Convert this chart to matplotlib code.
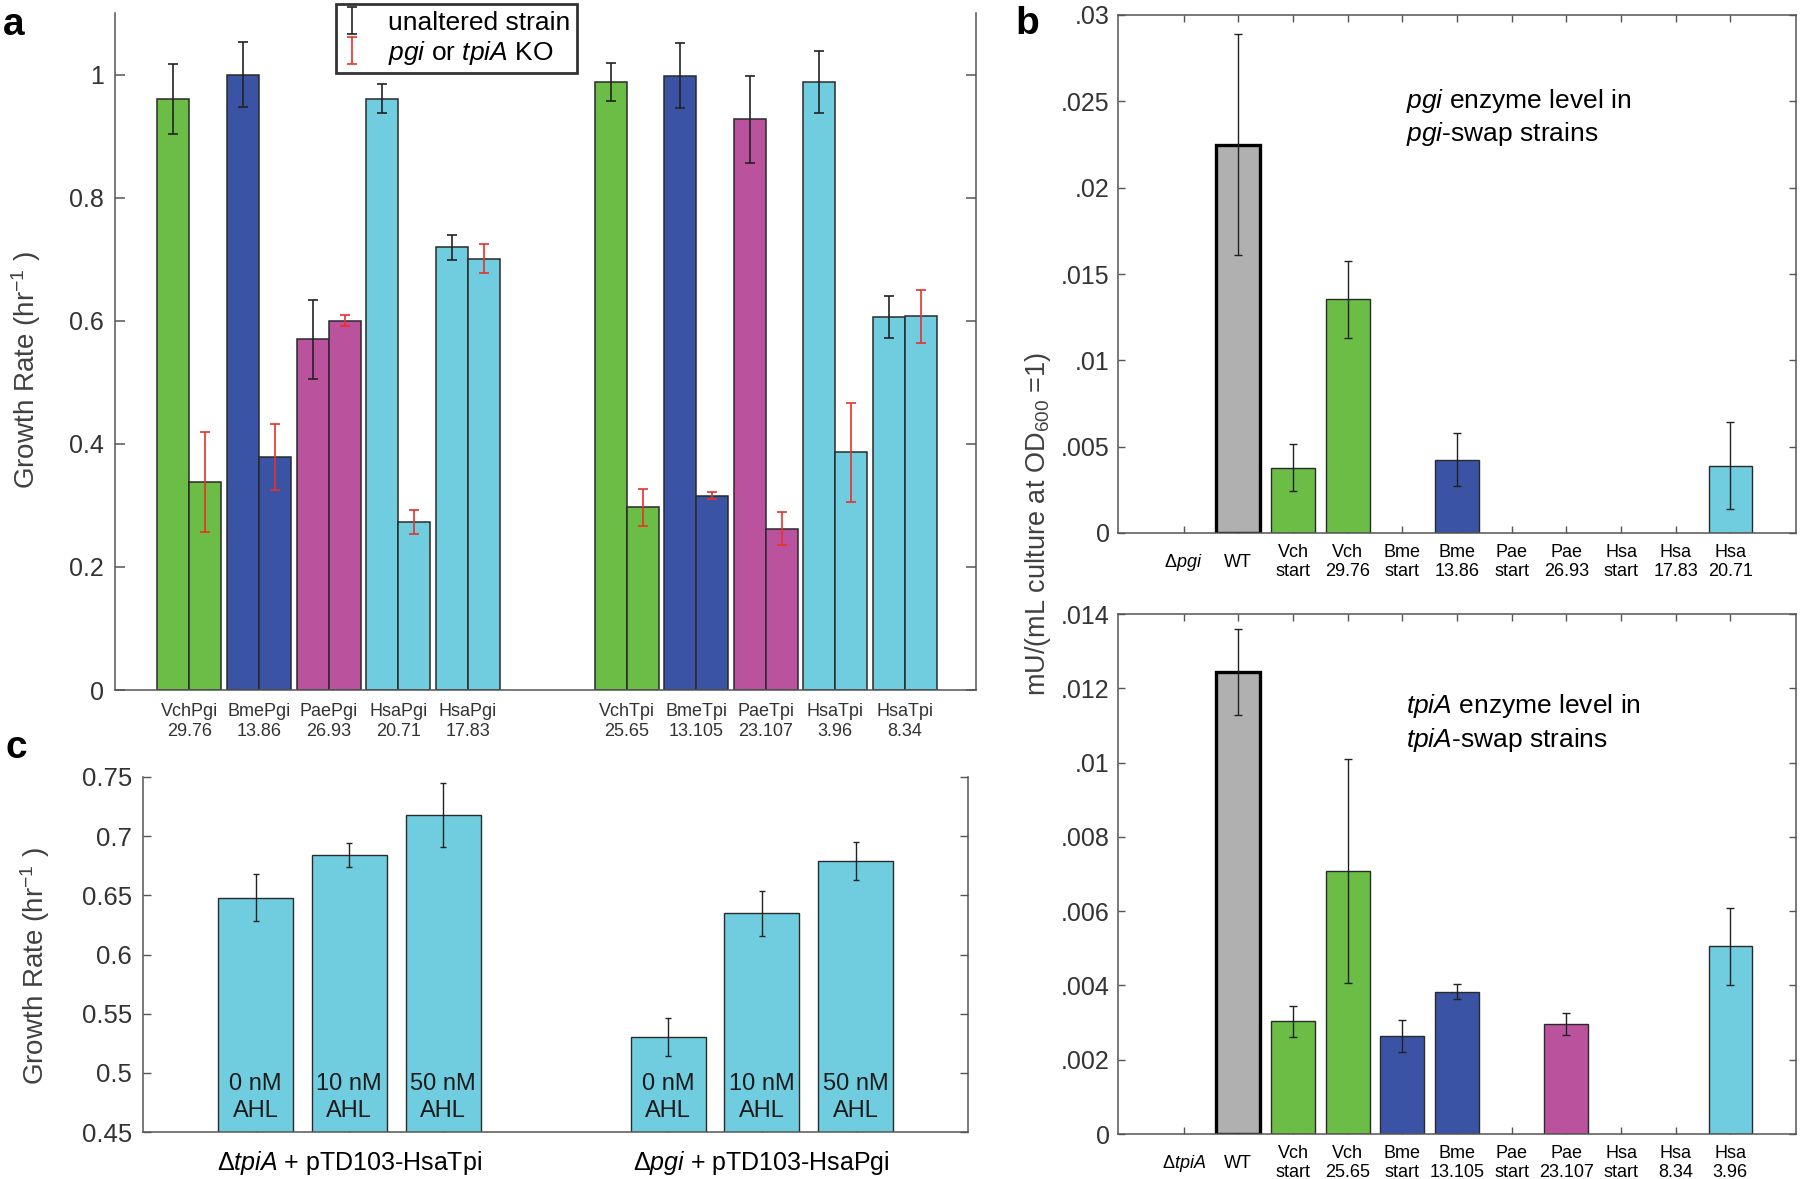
import numpy as np
import matplotlib
matplotlib.use('Agg')
import matplotlib.pyplot as plt
from matplotlib.transforms import blended_transform_factory

plt.rcParams['font.family'] = ['Liberation Sans', 'DejaVu Sans']
plt.rcParams['mathtext.fontset'] = 'custom'
plt.rcParams['mathtext.rm'] = 'Liberation Sans'
plt.rcParams['mathtext.it'] = 'Liberation Sans:italic'
plt.rcParams['mathtext.bf'] = 'Liberation Sans:bold'

GREEN = '#6bbd45'
BLUE = '#3a53a4'
MAG = '#ba529e'
CYAN = '#70cddf'
GRAY = '#b1b0b1'
TXT = '#333333'
SPINE = '#555555'
RED = '#e8312a'

# ---- panel a data ----
a_strains = ['VchPgi', 'BmePgi', 'PaePgi', 'HsaPgi', 'HsaPgi',
             'VchTpi', 'BmeTpi', 'PaeTpi', 'HsaTpi', 'HsaTpi']
a_codes = ['29.76', '13.86', '26.93', '20.71', '17.83',
           '25.65', '13.105', '23.107', '3.96', '8.34']
a_unaltered = [0.960, 1.000, 0.570, 0.961, 0.719, 0.988, 0.998, 0.927, 0.988, 0.606]
a_unaltered_err = [0.057, 0.053, 0.064, 0.023, 0.020, 0.031, 0.053, 0.071, 0.051, 0.034]
a_ko = [0.338, 0.379, 0.600, 0.273, 0.701, 0.297, 0.316, 0.262, 0.386, 0.607]
a_ko_err = [0.081, 0.054, 0.009, 0.020, 0.024, 0.030, 0.005, 0.027, 0.081, 0.043]
a_colors = [GREEN, BLUE, MAG, CYAN, CYAN, GREEN, BLUE, MAG, CYAN, CYAN]

# ---- panel b data ----
b_top_labels = [r'$\Delta\it{pgi}$', 'WT', 'Vch\nstart', 'Vch\n29.76', 'Bme\nstart', 'Bme\n13.86',
                'Pae\nstart', 'Pae\n26.93', 'Hsa\nstart', 'Hsa\n17.83', 'Hsa\n20.71']
b_top_vals = [np.nan, 0.0225, 0.00379, 0.01353, np.nan, 0.00424,
              np.nan, np.nan, np.nan, np.nan, 0.0039]
b_top_err = [np.nan, 0.0064, 0.00138, 0.00225, np.nan, 0.00153,
             np.nan, np.nan, np.nan, np.nan, 0.0025]
b_bot_labels = [r'$\Delta\it{tpiA}$', 'WT', 'Vch\nstart', 'Vch\n25.65', 'Bme\nstart', 'Bme\n13.105',
                'Pae\nstart', 'Pae\n23.107', 'Hsa\nstart', 'Hsa\n8.34', 'Hsa\n3.96']
b_bot_vals = [np.nan, 0.01243, 0.00303, 0.00708, 0.00265, 0.00383,
              np.nan, 0.00296, np.nan, np.nan, 0.00505]
b_bot_err = [np.nan, 0.00116, 0.00042, 0.00302, 0.00043, 0.00020,
             np.nan, 0.00030, np.nan, np.nan, 0.00104]
b_colors = [GRAY, GRAY, GREEN, GREEN, BLUE, BLUE, MAG, MAG, CYAN, CYAN, CYAN]

# ---- panel c data ----
c_groups = [r'$\Delta\it{tpiA}$ + pTD103-HsaTpi', r'$\Delta\it{pgi}$ + pTD103-HsaPgi']
c_ahl = ['0 nM\nAHL', '10 nM\nAHL', '50 nM\nAHL', '0 nM\nAHL', '10 nM\nAHL', '50 nM\nAHL']
c_vals = [0.648, 0.684, 0.718, 0.530, 0.635, 0.679]
c_err = [0.020, 0.010, 0.027, 0.016, 0.019, 0.016]

W, H = 1800, 1179
fig = plt.figure(figsize=(W / 100, H / 100), dpi=100)


def frac(left, top, right, bottom):
    return [left / W, 1 - bottom / H, (right - left) / W, (bottom - top) / H]


def style_axes(ax, top=True):
    for s in ax.spines.values():
        s.set_color(SPINE)
        s.set_linewidth(1.1)
    ax.spines['top'].set_visible(top)
    ax.tick_params(colors=SPINE, labelcolor=TXT)


# ================= panel a =================
axa = fig.add_axes(frac(115, 13, 976, 690))
style_axes(axa, top=False)
a_pos = np.array([1, 2, 3, 4, 5, 7.28, 8.28, 9.28, 10.28, 11.28])
bw = 0.46
axa.bar(a_pos - bw / 2, a_unaltered, bw, color=a_colors, edgecolor='#2a2a2a', linewidth=1.1, zorder=2)
axa.bar(a_pos + bw / 2, a_ko, bw, color=a_colors, edgecolor='#2a2a2a', linewidth=1.1, zorder=2)
eb1 = axa.errorbar(a_pos - bw / 2, a_unaltered, yerr=a_unaltered_err, fmt='none',
                   ecolor='#222222', elinewidth=1.2, capsize=3.5, capthick=1.2, zorder=3)
eb2 = axa.errorbar(a_pos + bw / 2, a_ko, yerr=a_ko_err, fmt='none',
                   ecolor=RED, elinewidth=1.2, capsize=3.5, capthick=1.2, zorder=3)
axa.set_xlim(-0.07, 12.3)
axa.set_ylim(0, 1.1)
axa.set_yticks([0, 0.2, 0.4, 0.6, 0.8, 1.0])
axa.set_yticklabels(['0', '0.2', '0.4', '0.6', '0.8', '1'], fontsize=18)
axa.tick_params(axis='y', direction='in', right=True, length=7, width=1.1, pad=8)
axa.set_xticks([])
ta = blended_transform_factory(axa.transData, axa.transAxes)
for x, s, c in zip(a_pos, a_strains, a_codes):
    axa.text(x, -0.046, s + '\n' + c, transform=ta, ha='center', va='center',
             fontsize=13, color=TXT, linespacing=1.25)
leg = axa.legend([eb1, eb2], ['unaltered strain', r'$\it{pgi}$ or $\it{tpiA}$ KO'],
                 loc='upper left', bbox_to_anchor=(0.257, 1.0133), borderaxespad=0,
                 fontsize=19, frameon=True, fancybox=False, edgecolor='black',
                 handlelength=0.7, handletextpad=1.0, labelspacing=0.15, borderpad=0.25)
leg.get_frame().set_linewidth(2)
for t in leg.get_texts():
    t.set_color('black')
fig.text(26 / W, 1 - 370 / H, r'Growth Rate (hr$^{\mathregular{-1}}$ )', rotation=90,
         ha='center', va='center', fontsize=20, color='#404040')

# ================= panel b =================
b_pos = np.arange(1, 12)


def panel_b(rect, vals, errs, labels, ylim, ticks, ticklabels, note_lines, note_y):
    ax = fig.add_axes(rect)
    style_axes(ax, top=True)
    vals = np.array(vals)
    errs = np.array(errs)
    m = ~np.isnan(vals)
    cols = [c for c, k in zip(b_colors, m) if k]
    edges = ['black' if l == 'WT' else '#2a2a2a' for l, k in zip(labels, m) if k]
    lws = [2.4 if l == 'WT' else 1.0 for l, k in zip(labels, m) if k]
    ax.bar(b_pos[m], vals[m], 0.8, color=cols, edgecolor=edges, linewidth=lws, zorder=2)
    ax.errorbar(b_pos[m], vals[m], yerr=errs[m], fmt='none', ecolor='#222222',
                elinewidth=1.0, capsize=3, capthick=1.0, zorder=3)
    ax.set_xlim(-0.2, 12.2)
    ax.set_ylim(*ylim)
    ax.set_yticks(ticks)
    ax.set_yticklabels(ticklabels, fontsize=18)
    ax.set_xticks(b_pos)
    ax.set_xticklabels([])
    ax.tick_params(axis='both', direction='in', top=True, right=True, length=5, width=1.0)
    ax.tick_params(axis='y', pad=6)
    tb = blended_transform_factory(ax.transData, ax.transAxes)
    for x, l in zip(b_pos, labels):
        ax.text(x, -0.056, l, transform=tb, ha='center', va='center', fontsize=13,
                color='black', linespacing=1.2)
    for line, y in zip(note_lines, note_y):
        ax.text(5.07, y, line, ha='left', va='center', fontsize=19, color='black')
    return ax


axb1 = panel_b(frac(1118, 15, 1796, 533), b_top_vals, b_top_err, b_top_labels, (0, 0.03),
               [0, 0.005, 0.01, 0.015, 0.02, 0.025, 0.03],
               ['0', '.005', '.01', '.015', '.02', '.025', '.03'],
               [r'$\it{pgi}$ enzyme level in', r'$\it{pgi}$-swap strains'], [0.0250, 0.0231])
axb2 = panel_b(frac(1118, 614, 1796, 1134), b_bot_vals, b_bot_err, b_bot_labels, (0, 0.014),
               [0, 0.002, 0.004, 0.006, 0.008, 0.01, 0.012, 0.014],
               ['0', '.002', '.004', '.006', '.008', '.01', '.012', '.014'],
               [r'$\it{tpiA}$ enzyme level in', r'$\it{tpiA}$-swap strains'], [0.01151, 0.0106])
fig.text(1038 / W, 1 - 524 / H, r'mU/(mL culture at OD$_{\mathregular{600}}$ =1)', rotation=90,
         ha='center', va='center', fontsize=19.5, color='#404040')

# ================= panel c =================
axc = fig.add_axes(frac(143, 777, 968, 1132))
style_axes(axc, top=False)
c_pos = np.array([1.2, 2.2, 3.2, 5.6, 6.6, 7.6])
axc.bar(c_pos, c_vals, 0.8, color=CYAN, edgecolor='#2a2a2a', linewidth=1.0, zorder=2)
axc.errorbar(c_pos, c_vals, yerr=c_err, fmt='none', ecolor='#222222',
             elinewidth=1.0, capsize=2, capthick=1.0, zorder=3)
axc.set_xlim(0, 8.8)
axc.set_ylim(0.45, 0.75)
yt = [0.45, 0.5, 0.55, 0.6, 0.65, 0.7, 0.75]
axc.set_yticks(yt)
axc.set_yticklabels(['0.45', '0.5', '0.55', '0.6', '0.65', '0.7', '0.75'], fontsize=18.5)
axc.tick_params(axis='y', direction='in', right=True, length=6, width=1.0, pad=8)
axc.set_xticks(c_pos)
axc.set_xticklabels([])
axc.tick_params(axis='x', direction='in', length=5, width=1.0)
for x, s in zip(c_pos, c_ahl):
    axc.text(x, 0.4795, s, ha='center', va='center', fontsize=17, color='#1a1a1a',
             linespacing=1.3, zorder=4)
tc = blended_transform_factory(axc.transData, axc.transAxes)
for x, g in zip([c_pos[1], c_pos[4]], c_groups):
    axc.text(x, -0.087, g, transform=tc, ha='center', va='center', fontsize=18, color='black')
fig.text(35 / W, 1 - 966 / H, r'Growth Rate (hr$^{\mathregular{-1}}$ )', rotation=90,
         ha='center', va='center', fontsize=20, color='#404040')

# panel letters
fig.text(14 / W, 1 - 35 / H, 'a', fontsize=28, fontweight='bold', ha='center', va='baseline')
fig.text(1027 / W, 1 - 34 / H, 'b', fontsize=28, fontweight='bold', ha='center', va='baseline')
fig.text(16 / W, 1 - 758 / H, 'c', fontsize=28, fontweight='bold', ha='center', va='baseline')

fig.savefig('out.png', dpi=100)
